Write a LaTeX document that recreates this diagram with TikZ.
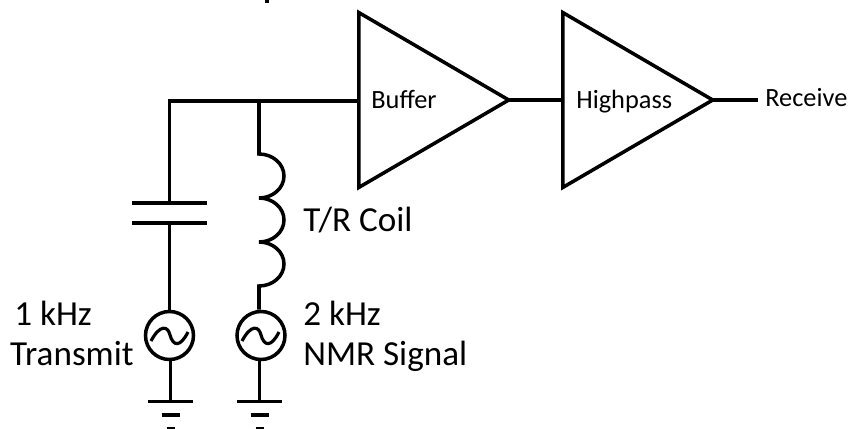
\documentclass[tikz,border=0pt]{standalone}
\usepackage{fontspec}
\setmainfont{Carlito}
\usetikzlibrary{shapes.geometric}

\tikzset{
	wire/.style={line width=2pt},
	amp/.style={draw, line width=2pt, isosceles triangle, isosceles triangle stretches, inner sep=0pt, minimum width=3.5cm, minimum height=3.0cm, anchor=lower side},
	source/.style={draw, circle, line width=2pt, inner sep=0pt, minimum size=0.96cm},
	smalltext/.style={font=\fontsize{15}{18}\selectfont, inner sep=0pt},
	bigtext/.style={font=\fontsize{20}{24}\selectfont, inner sep=0pt}
}

\begin{document}
\begin{tikzpicture}[x=0.02cm, y=-0.02cm]
		\useasboundingbox (0,0) rectangle (853,429);
		
		% amplifiers
		\node[amp] (buffer) at (357,100) {};
		\node[amp] (highpass) at (561,100) {};
		\node[smalltext, anchor=base west] (bufferlabel) at (371,109) {Buffer};
		\node[smalltext, anchor=base west] (highpasslabel) at (576,109) {Highpass};
		\node[smalltext, anchor=base west] (receive) at (765,107) {Receive};
		\coordinate (receiveend) at (758,100);
		\draw[wire] ([xshift=-4pt]buffer.apex) -- (highpass.lower side);
		\draw[wire] ([xshift=-4pt]highpass.apex) -- (receiveend);
		
		% input line
		\coordinate (corner) at (169.5,101);
		\coordinate (junction) at (259,101);
		\coordinate (plateA) at (169.5,203);
		\coordinate (plateB) at (169.5,223);
		\draw[wire] (buffer.lower side |- corner) -- (corner) -- (plateA);
		
		% capacitor
		\draw[wire] (132,203) -- (207,203);
		\draw[wire] (132,223) -- (207,223);
		
		% sources
		\node[source] (transmit) at (169.5,335.5) {};
		\node[source] (signal) at (261,335.5) {};
		\draw[wire] (plateB) -- (transmit);
		\draw[line width=1.8pt] (151,341) .. controls (160,324) and (168,326) .. (170,335) .. controls (173,346) and (180,348) .. (188,332);
		\draw[line width=1.8pt] (242,341) .. controls (251,324) and (259,326) .. (261,335) .. controls (264,346) and (271,348) .. (279,332);
		
		% coil
		\draw[wire] (junction) -- (259,154) arc[start angle=-90, end angle=90, x radius=25, y radius=22]
			arc[start angle=-90, end angle=90, x radius=25, y radius=22]
			arc[start angle=-90, end angle=90, x radius=25, y radius=22] -- (signal.north -| junction);
		
		% grounds
		\coordinate (groundA) at (170.5,401);
		\coordinate (groundB) at (259.5,401);
		\draw[wire] (transmit.south -| groundA) -- (groundA);
		\draw[wire] (signal.south -| groundB) -- (groundB);
		\foreach \gx in {170.5,259.5} {
			\draw[wire] (\gx-22.5,401.5) -- (\gx+22.5,401.5);
			\draw[wire] (\gx-9,415) -- (\gx+9,415);
			\draw[wire] (\gx-4,429) -- (\gx+4,429);
		}
		\draw[wire] (267,0) -- (267,3);
		
		% text
		\node[bigtext, anchor=base west] (coillabel) at (303,232) {T/R Coil};
		\node[bigtext, anchor=base west] (freqB) at (303,325) {2 kHz};
		\node[bigtext, anchor=base west] (nmr) at (303,365) {NMR Signal};
		\node[bigtext, anchor=base west] (freqA) at (14,325) {1 kHz};
		\node[bigtext, anchor=base east] (tx) at (134,365) {Transmit};
	\end{tikzpicture}
\end{document}
